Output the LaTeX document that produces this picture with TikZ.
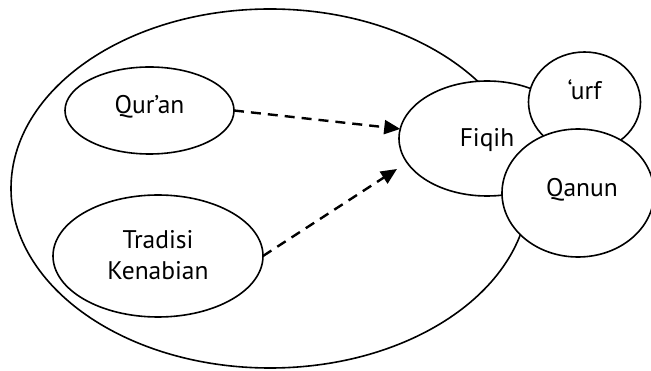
\documentclass[tikz,border=0pt]{standalone}
\usepackage{fontspec}
\setmainfont{PT Sans}
\usetikzlibrary{shapes.geometric,arrows.meta}
\begin{document}
\begin{tikzpicture}[x=1pt,y=-1pt,
  oval/.style={ellipse,draw=black,line width=1.6pt,fill=white,inner sep=0pt,outer sep=0pt},
  lbl/.style={font=\fontsize{25.5}{30}\selectfont,inner sep=0pt,text height=16pt,text depth=4pt},
  dasharrow/.style={line width=2.4pt,dash pattern=on 10pt off 7pt,-{Triangle[length=16pt,width=14pt]}}]
\useasboundingbox (0,0) rectangle (651,371);
\node[oval,minimum width=518pt,minimum height=359pt] (big) at (270,188.5) {};
\node[oval,minimum width=169pt,minimum height=87pt,
  label={[lbl,yshift=3.2pt]center:Qur’an}] (quran) at (149.5,110.5) {};
\node[oval,minimum width=210pt,minimum height=122pt,
  label={[lbl,yshift=13.7pt]center:Tradisi},
  label={[lbl,yshift=-17.3pt]center:Kenabian}] (trad) at (158,256) {};
\node[oval,minimum width=176pt,minimum height=115pt,
  label={[lbl,yshift=-2.2pt]center:Fiqih}] (fiqih) at (487,138.5) {};
\node[oval,minimum width=112pt,minimum height=100pt,
  label={[lbl,yshift=8.7pt]center:‘urf}] (urf) at (584.5,102) {};
\node[oval,minimum width=152pt,minimum height=128pt,
  label={[lbl,yshift=2.3pt,xshift=4pt]center:Qanun}] (qanun) at (578,193) {};
\coordinate (tip2) at (397,169);
\draw[dasharrow] (quran.east) -- (fiqih);
\draw[dasharrow] (trad.east) -- (tip2);
\end{tikzpicture}
\end{document}
